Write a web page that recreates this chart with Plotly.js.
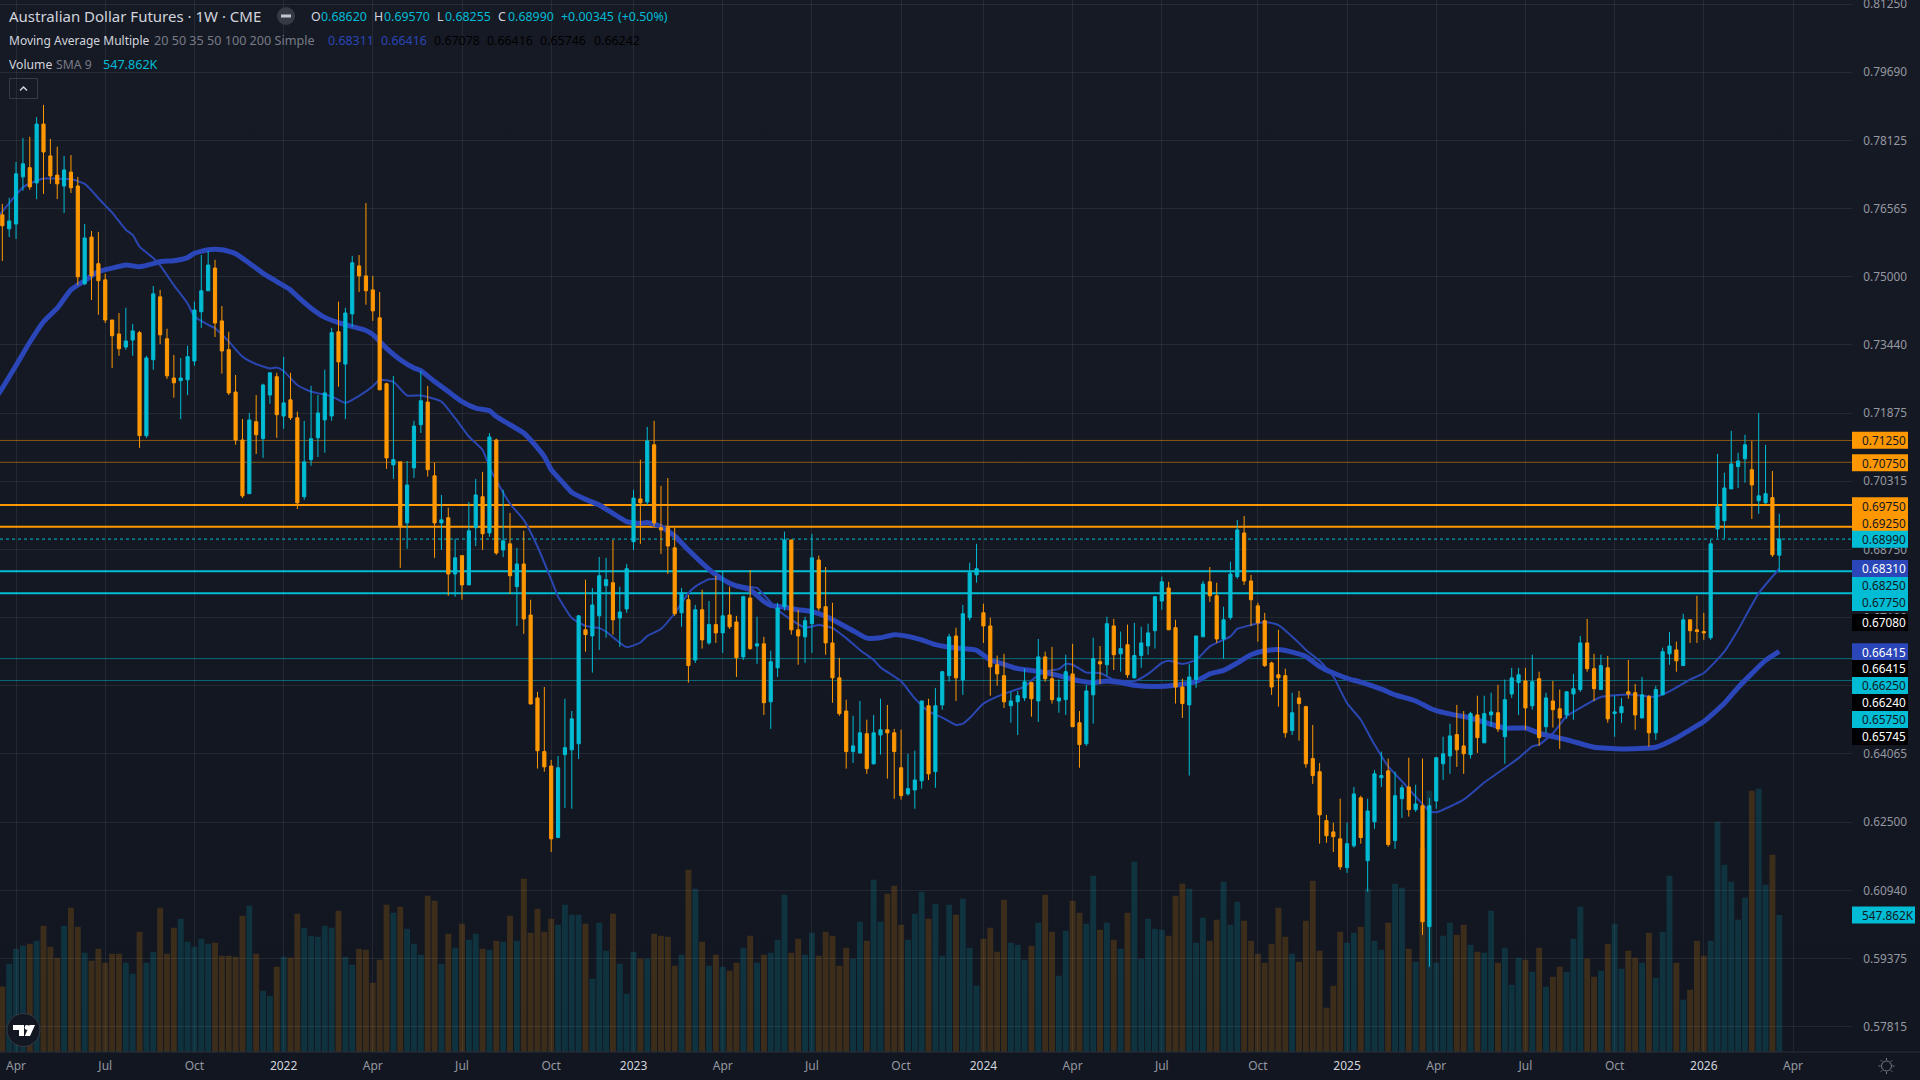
<!DOCTYPE html>
<html><head><meta charset="utf-8">
<script src="https://cdn.plot.ly/plotly-3.0.1.min.js"></script>
<style>html,body{margin:0;padding:0;width:1920px;height:1080px;overflow:hidden;background:linear-gradient(#161a25,#121620)}#c{width:1920px;height:1080px}</style>
</head><body><div id="c"></div>
<script>
const opens=[.7642,.7610,.7621,.7729,.7750,.7715,.7850,.7777,.7733,.7708,
.7740,.7708,.7484,.7591,.7530,.7493,.7401,.7369,.7339,.7355,
.7372,.7136,.7310,.7454,.7358,.7268,.7262,.7264,.7307,.7420,
.7468,.7520,.7399,.7333,.7236,.7126,.7003,.7168,.7129,.7229,
.7271,.7181,.7218,.7177,.6996,.7081,.7131,.7172,.7181,.7374,
.7300,.7415,.7525,.7502,.7470,.7406,.7255,.7069,.7076,.6936,
.7062,.7161,.7213,.7044,.6936,.6948,.6819,.6861,.6794,.6925,
.6996,.6913,.7126,.6874,.6888,.6790,.6842,.6725,.6535,.6412,
.6379,.6215,.6405,.6416,.6430,.6691,.6677,.6723,.6792,.6799,
.6718,.6739,.6893,.6991,.6984,.7115,.6925,.6925,.6879,.6730,
.6760,.6622,.6737,.6661,.6703,.6684,.6725,.6709,.6629,.6764,
.6654,.6659,.6526,.6604,.6744,.6897,.6691,.6675,.6705,.6851,
.6744,.6661,.6581,.6505,.6412,.6409,.6453,.6384,.6450,.6462,
.6455,.6375,.6315,.6324,.6345,.6517,.6366,.6519,.6586,.6677,
.6576,.6719,.6817,.6730,.6700,.6611,.6586,.6517,.6526,.6535,
.6570,.6528,.6629,.6579,.6528,.6531,.6590,.6478,.6430,.6542,
.6618,.6611,.6700,.6636,.6657,.6581,.6632,.6654,.6689,.6757,
.6787,.6696,.6560,.6519,.6577,.6675,.6801,.6769,.6670,.6719,
.6813,.6913,.6803,.6746,.6712,.6615,.6588,.6586,.6460,.6535,
.6515,.6396,.6366,.6254,.6228,.6212,.6146,.6196,.6306,.6162,
.6251,.6352,.6368,.6208,.6304,.6331,.6279,.6288,.6011,.6299,
.6384,.6402,.6451,.6425,.6405,.6496,.6432,.6496,.6501,.6446,
.6544,.6570,.6574,.6517,.6579,.6469,.6528,.6510,.6496,.6544,
.6554,.6661,.6602,.6554,.6604,.6499,.6501,.6549,.6547,.6489,
.6538,.6455,.6542,.6636,.6645,.6609,.6714,.6691,.6687,.6673,
.6922,.6941,.7014,.7065,.7083,.7058,.6987,.6982,.6994,.6862];
const highs=[.7667,.7681,.7763,.7818,.7821,.7866,.7894,.7816,.7798,.7777,
.7779,.7729,.7621,.7605,.7603,.7507,.7401,.7417,.7429,.7392,
.7376,.7319,.7479,.7470,.7381,.7321,.7314,.7342,.7443,.7550,
.7559,.7539,.7433,.7374,.7275,.7174,.7188,.7229,.7255,.7280,
.7280,.7317,.7280,.7191,.7170,.7250,.7229,.7287,.7383,.7443,
.7429,.7548,.7550,.7669,.7502,.7465,.7257,.7273,.7076,.7078,
.7170,.7284,.7250,.7074,.7000,.6971,.6900,.6861,.6984,.7037,
.7053,.7142,.7129,.7012,.6959,.6879,.6918,.6760,.6549,.6560,
.6393,.6402,.6533,.6505,.6725,.6806,.6787,.6858,.6856,.6897,
.6790,.6842,.7012,.7081,.7156,.7170,.7021,.7039,.6925,.6787,
.6771,.6748,.6783,.6757,.6815,.6824,.6790,.6723,.6769,.6828,
.6721,.6675,.6643,.6753,.6916,.6897,.6737,.6721,.6911,.6861,
.6835,.6753,.6627,.6531,.6494,.6528,.6485,.6496,.6533,.6519,
.6464,.6462,.6407,.6414,.6528,.6533,.6558,.6597,.6682,.6696,
.6748,.6845,.6888,.6751,.6719,.6632,.6636,.6549,.6551,.6602,
.6572,.6670,.6641,.6652,.6577,.6634,.6659,.6505,.6565,.6673,
.6654,.6721,.6716,.6687,.6703,.6707,.6698,.6705,.6767,.6813,
.6801,.6714,.6579,.6613,.6677,.6803,.6835,.6799,.6744,.6847,
.6943,.6952,.6817,.6753,.6730,.6618,.6691,.6602,.6547,.6551,
.6517,.6473,.6386,.6267,.6249,.6304,.6249,.6331,.6311,.6304,
.6370,.6412,.6396,.6366,.6336,.6398,.6336,.6396,.6306,.6400,
.6446,.6476,.6519,.6505,.6503,.6540,.6540,.6547,.6565,.6577,
.6604,.6604,.6604,.6634,.6595,.6547,.6574,.6554,.6551,.6590,
.6677,.6716,.6636,.6634,.6631,.6540,.6535,.6622,.6567,.6583,
.6542,.6563,.6650,.6686,.6664,.6728,.6714,.6769,.6730,.6897,
.7094,.7051,.7147,.7097,.7138,.7124,.7188,.7115,.7055,.6957];
const lows=[.7536,.7591,.7587,.7697,.7699,.7678,.7690,.7713,.7678,.7646,
.7692,.7481,.7481,.7447,.7413,.7394,.7291,.7319,.7333,.7319,
.7108,.7131,.7287,.7346,.7266,.7223,.7174,.7229,.7296,.7383,
.7468,.7362,.7278,.7229,.7115,.6993,.7003,.7094,.7085,.7209,
.7131,.7152,.7172,.6968,.6989,.7067,.7087,.7097,.7170,.7248,
.7174,.7385,.7465,.7436,.7399,.7241,.7060,.7037,.6833,.6877,
.7039,.7142,.7042,.6856,.6874,.6769,.6767,.6760,.6794,.6883,
.6874,.6904,.6863,.6858,.6773,.6700,.6682,.6521,.6373,.6366,
.6182,.6215,.6283,.6281,.6395,.6641,.6593,.6645,.6673,.6680,
.6652,.6730,.6874,.6888,.6977,.6929,.6865,.6819,.6723,.6698,
.6570,.6615,.6648,.6657,.6661,.6638,.6693,.6583,.6622,.6645,
.6613,.6496,.6464,.6583,.6735,.6680,.6611,.6615,.6638,.6735,
.6634,.6524,.6494,.6373,.6386,.6407,.6361,.6382,.6405,.6350,
.6304,.6302,.6311,.6281,.6327,.6347,.6329,.6508,.6572,.6528,
.6542,.6712,.6799,.6661,.6540,.6563,.6512,.6478,.6450,.6528,
.6492,.6480,.6572,.6522,.6501,.6496,.6469,.6375,.6425,.6476,
.6567,.6586,.6599,.6595,.6581,.6579,.6604,.6634,.6648,.6737,
.6691,.6522,.6489,.6357,.6558,.6675,.6755,.6661,.6625,.6714,
.6808,.6794,.6700,.6664,.6606,.6542,.6515,.6444,.6450,.6437,
.6375,.6338,.6201,.6203,.6182,.6141,.6134,.6192,.6201,.6091,
.6235,.6331,.6194,.6189,.6260,.6263,.6274,.5992,.5919,.6281,
.6347,.6361,.6377,.6361,.6396,.6409,.6432,.6469,.6457,.6384,
.6535,.6496,.6462,.6508,.6425,.6455,.6467,.6418,.6487,.6485,
.6549,.6595,.6528,.6554,.6478,.6446,.6478,.6533,.6462,.6489,
.6423,.6439,.6542,.6611,.6595,.6609,.6661,.6661,.6668,.6668,
.6902,.6900,.7014,.7016,.7028,.6945,.6957,.6980,.6858,.68255];
const closes=[.7617,.7628,.7736,.7759,.7706,.7850,.7786,.7731,.7713,.7745,
.7704,.7500,.7589,.7502,.7491,.7401,.7365,.7335,.7353,.7376,
.7136,.7314,.7461,.7367,.7273,.7257,.7268,.7317,.7424,.7468,
.7527,.7394,.7330,.7234,.7126,.6998,.7172,.7138,.7252,.7280,
.7184,.7211,.7177,.6982,.7076,.7129,.7188,.7234,.7372,.7305,
.7417,.7532,.7502,.7468,.7422,.7241,.7085,.7081,.6927,.7023,
.7158,.7216,.7058,.6936,.6943,.6819,.6856,.6794,.6918,.7000,
.6911,.7133,.6867,.6895,.6815,.6842,.6716,.6521,.6414,.6377,
.6212,.6375,.6421,.6487,.6723,.6680,.6748,.6815,.6806,.6714,
.6732,.6831,.6993,.6982,.7124,.6936,.6920,.6883,.6728,.6776,
.6609,.6737,.6668,.6703,.6684,.6723,.6698,.6627,.6767,.6648,
.6659,.6524,.6618,.6741,.6897,.6691,.6677,.6712,.6856,.6741,
.6661,.6581,.6499,.6412,.6425,.6455,.6373,.6455,.6462,.6455,
.6412,.6311,.6327,.6347,.6528,.6361,.6517,.6595,.6675,.6581,
.6728,.6822,.6831,.6700,.6606,.6590,.6526,.6528,.6540,.6572,
.6533,.6629,.6579,.6531,.6535,.6595,.6469,.6428,.6551,.6625,
.6613,.6705,.6634,.6648,.6588,.6632,.6661,.6684,.6767,.6801,
.6691,.6560,.6522,.6583,.6677,.6796,.6769,.6670,.6714,.6819,
.6920,.6803,.6760,.6707,.6609,.6560,.6581,.6455,.6501,.6522,
.6384,.6357,.6267,.6219,.6217,.6148,.6201,.6315,.6215,.6276,
.6361,.6357,.6199,.6311,.6329,.6279,.6292,.6022,.6288,.6398,
.6407,.6448,.6416,.6407,.6499,.6444,.6499,.6503,.6464,.6531,
.6581,.6588,.6512,.6572,.6444,.6535,.6508,.6489,.6549,.6556,
.6661,.6602,.6556,.6609,.6487,.6503,.6515,.6544,.6496,.6542,
.6455,.6554,.6641,.6654,.6620,.6714,.6689,.6687,.6684,.6888,
.6973,.7016,.7071,.7078,.7115,.7023,.6998,.7003,.6863,.6899];
const volumesK=[262,353,413,425,433,445,505,421,377,505,
577,501,397,365,413,357,393,393,357,313,
481,357,401,577,393,497,533,441,421,453,
433,437,385,385,381,545,585,393,245,225,
341,381,377,553,497,465,461,505,497,565,
381,349,413,409,277,369,589,557,581,493,
433,389,625,605,353,473,417,513,449,473,
413,409,445,441,545,445,693,477,573,481,
533,509,589,549,549,513,293,517,405,553,
353,233,401,373,373,473,465,461,345,389,
729,653,441,345,389,341,325,357,417,465,
357,389,397,449,629,397,453,389,477,385,
481,465,345,417,373,521,445,689,521,633,
665,509,449,553,641,533,593,385,589,549,
613,417,265,453,497,401,609,437,429,369,
425,517,629,481,305,485,605,557,513,705,
489,517,449,413,557,761,373,533,493,489,
465,625,673,653,437,537,445,529,681,509,
601,525,445,393,357,433,577,461,393,361,
525,685,405,177,265,481,437,477,501,653,
445,409,517,673,657,413,361,817,1045,357,
465,517,469,509,429,401,397,565,357,417,
269,377,369,321,417,261,301,341,321,453,
581,373,301,325,433,513,333,405,377,357,
477,297,481,705,357,209,249,445,385,445,
921,749,681,529,617,1045,1053,669,789,547.862];
const ma20Bars=[-1,1,3,5,6,8,10,12,13,14,16,18,19,20,22,23,25,27,28,30,31,33,35,37,39,40,41,43,45,48,50,52,54,55,57,59,61,64,66,68,70,71,72,74,76,78,80,81,82,83,85,87,88,89,91,93,94,96,98,100,101,103,105,107,109,110,111,113,115,117,119,121,123,125,127,128,131,133,135,137,139,140,141,143,145,147,149,151,153,154,155,156,158,160,162,165,167,169,170,172,174,176,179,180,182,184,186,189,190,192,194,196,198,200,202,204,206,208,209,213,216,221,223,224,226,228,230,233,237,241,243,246,248,251,253,256,259];
const ma20Vals=[.7630,.7669,.7705,.7720,.7725,.7725,.7724,.7713,.7698,.7680,.7647,.7608,.7596,.7569,.7543,.7526,.7481,.7439,.7409,.7390,.7382,.7352,.7317,.7300,.7290,.7292,.7284,.7252,.7237,.7226,.7211,.7227,.7249,.7264,.7259,.7228,.7228,.7214,.7176,.7134,.7103,.7064,.7033,.6980,.6943,.6882,.6806,.6767,.6741,.6718,.6700,.6695,.6687,.6674,.6651,.6662,.6677,.6693,.6729,.6775,.6790,.6807,.6806,.6794,.6789,.6787,.6771,.6737,.6714,.6696,.6702,.6695,.6672,.6645,.6622,.6605,.6573,.6534,.6504,.6490,.6473,.6476,.6489,.6522,.6538,.6550,.6561,.6588,.6599,.6601,.6613,.6611,.6593,.6592,.6577,.6573,.6590,.6615,.6620,.6613,.6622,.6653,.6676,.6693,.6702,.6709,.6702,.6661,.6645,.6620,.6584,.6523,.6485,.6428,.6378,.6344,.6309,.6276,.6273,.6302,.6341,.6397,.6424,.6428,.6454,.6493,.6512,.6537,.6543,.6538,.6550,.6577,.6592,.6641,.6691,.6775,.68311];
const ma50Bars=[-1,0,2,4,6,8,10,12,14,16,18,20,22,23,25,27,28,30,32,34,36,38,40,42,43,45,47,49,51,53,54,56,58,60,61,63,65,67,69,71,72,74,76,77,79,80,82,83,85,87,89,91,93,94,96,98,100,102,104,106,107,109,111,112,114,116,118,120,122,124,126,128,130,132,134,136,138,140,142,144,146,148,151,154,157,159,161,163,165,168,171,174,176,178,180,182,184,186,188,190,192,194,196,198,201,203,206,208,209,212,214,219,222,224,227,229,232,236,241,244,246,248,251,253,257,259];
const ma50Vals=[.7222,.7245,.7297,.7350,.7397,.7428,.7470,.7491,.7512,.7520,.7527,.7523,.7530,.7535,.7537,.7544,.7554,.7562,.7562,.7553,.7531,.7508,.7489,.7470,.7455,.7428,.7407,.7395,.7386,.7377,.7368,.7336,.7310,.7291,.7285,.7260,.7237,.7214,.7199,.7193,.7180,.7161,.7142,.7126,.7088,.7058,.7023,.7006,.6990,.6977,.6958,.6939,.6935,.6937,.6928,.6906,.6874,.6844,.6817,.6798,.6792,.6783,.6756,.6747,.6743,.6737,.6733,.6722,.6706,.6689,.6672,.6673,.6680,.6676,.6668,.6657,.6651,.6648,.6644,.6622,.6612,.6602,.6596,.6586,.6574,.6570,.6574,.6570,.6564,.6561,.6564,.6573,.6590,.6598,.6615,.6634,.6643,.6646,.6640,.6630,.6607,.6592,.6580,.6571,.6555,.6542,.6528,.6512,.6506,.6495,.6489,.6466,.6466,.6454,.6443,.6435,.6422,.6418,.6422,.6443,.6462,.6481,.6523,.6559,.6621,.66416];
const priceTicks=[.8125,.7969,.78125,.76565,.75,.7344,.71875,.70315,.6875,.6719,.65625,.64065,.625,.6094,.59375,.57815];
const priceTickText=priceTicks.map(v=>v.toFixed(5));
const timeTickBars=[2,15,28,41,54,67,80,92,105,118,131,143,156,169,183,196,209,222,235,248,261];
const timeTickText=['Apr','Jul','Oct','2022','Apr','Jul','Oct','2023','Apr','Jul','Oct','2024','Apr','Jul','Oct','2025','Apr','Jul','Oct','2026','Apr'];
const orangeStrong=[.6977,.6927], orangeWeak=[.7125,.7075], tealStrong=[.6825,.6775], tealWeak=[.6625,.6575];
const lastClose=.6899;
const labelRows=[['0.71250',440.3,'#ff9800','#131722'],['0.70750',462.7,'#ff9800','#131722'],['0.69750',505.7,'#ff9800','#131722'],['0.69250',522.6,'#ff9800','#131722'],['0.68990',539.3,'#00bcd4','#131722'],['0.68310',568.4,'#2a46b8','#fff'],['0.68250',585.4,'#00bcd4','#131722'],['0.67750',602.4,'#00bcd4','#131722'],['0.67080',622.4,'#000','#fff'],['0.66415',651.7,'#2a46b8','#fff'],['0.66415',668.4,'#000','#fff'],['0.66250',685.4,'#00bcd4','#131722'],['0.66240',702.4,'#000','#fff'],['0.65750',719.4,'#00bcd4','#131722'],['0.65745',736.4,'#000','#fff']];

const TEAL='#00bcd4',ORANGE='#ff9800',BLUE='#2a46b8',GRID='rgba(255,255,255,0.07)';
const FONT='"Noto Sans", sans-serif';
const PW=1852,PH=1052;
const px=x=>x/PW, py=y=>(PH-y)/PH;
const bars=opens.map((_,i)=>i);
const volColors=opens.map((o,i)=>closes[i]>=o?'rgba(0,188,212,0.17)':'rgba(255,152,0,0.18)');
const priceRange=[.57236,.81343];

const data=[
 {type:'bar',x:bars,y:volumesK,yaxis:'y',marker:{color:volColors,line:{width:0}},hoverinfo:'skip'},
 {type:'scatter',mode:'lines',x:ma20Bars,y:ma20Vals,yaxis:'y2',line:{color:'#2a46b0',width:2,shape:'spline',smoothing:0.5},hoverinfo:'skip'},
 {type:'scatter',mode:'lines',x:ma50Bars,y:ma50Vals,yaxis:'y2',line:{color:BLUE,width:5,shape:'spline',smoothing:0.5},hoverinfo:'skip'},
 {type:'candlestick',x:bars,open:opens,high:highs,low:lows,close:closes,yaxis:'y3',whiskerwidth:0,
  increasing:{line:{color:TEAL,width:1},fillcolor:TEAL},decreasing:{line:{color:ORANGE,width:1},fillcolor:ORANGE},hoverinfo:'skip'}
];
const hline=(v,c,w,d)=>({type:'line',xref:'paper',x0:0,x1:1,yref:'y2',y0:v,y1:v,layer:'below',line:{color:c,width:w,dash:d||'solid'}});
const shapes=[
 ...orangeWeak.map(v=>hline(v,'rgba(255,152,0,0.5)',1)),
 ...tealWeak.map(v=>hline(v,'rgba(0,188,212,0.5)',1)),
 ...orangeStrong.map(v=>hline(v,ORANGE,2)),
 ...tealStrong.map(v=>hline(v,TEAL,2)),
 hline(lastClose,TEAL,1,'dot'),
 {type:'line',xref:'paper',yref:'paper',x0:0,x1:px(1920),y0:0,y1:0,line:{color:'#2a2e39',width:1}}
];
const box=(x0,y0,x1,y1,fill,line)=>({type:'rect',xref:'paper',yref:'paper',x0:px(x0),x1:px(x1),y0:py(y0),y1:py(y1),fillcolor:fill,line:line||{width:0},layer:'above'});
labelRows.forEach(r=>shapes.push(box(1852,r[1]-8.5,1908,r[1]+8.5,r[2])));
shapes.push(box(1852,906.5,1915,923.5,TEAL));
const pathShape=(d,fill,line)=>({type:'path',xref:'paper',yref:'paper',path:d,fillcolor:fill,line:line||{width:0},layer:'above'});
const P=(pts,close)=>'M'+pts.map(p=>px(p[0])+','+py(p[1])).join(' L')+(close?' Z':'');
const circ=(cx,cy,r,fill,line)=>({type:'circle',xref:'paper',yref:'paper',x0:px(cx-r),x1:px(cx+r),y0:py(cy+r),y1:py(cy-r),fillcolor:fill,line:line||{width:0},layer:'above'});
shapes.push(box(9.5,78.5,37.5,98.5,'rgba(0,0,0,0)',{color:'#363a45',width:1}));
shapes.push(pathShape(P([[20,90.5],[23.5,87],[27,90.5]]),'rgba(0,0,0,0)',{color:'#d1d4dc',width:1.5}));
shapes.push(circ(286,16,9,'#363a45'));
shapes.push(box(281,14.5,291,17.5,'#c3c6ce'));
shapes.push(circ(23.5,1030,16.5,'#131722',{color:'#363a45',width:1}));
shapes.push(pathShape(P([[13,1025],[24,1025],[24,1036],[19,1036],[19,1030],[13,1030]],true),'#fff'));
shapes.push(circ(27,1027.5,2.4,'#fff'));
shapes.push(pathShape(P([[29.5,1025],[35,1025],[30,1036],[24.8,1036]],true),'#fff'));
shapes.push(circ(1886.5,1066,5,'rgba(0,0,0,0)',{color:'#787b86',width:1}));
[[0,-8,0,-6],[0,6,0,8],[-8,0,-6,0],[6,0,8,0],[-5.7,-5.7,-4.3,-4.3],[4.3,4.3,5.7,5.7],[-5.7,5.7,-4.3,4.3],[4.3,-4.3,5.7,-5.7]].forEach(s=>
 shapes.push(pathShape(P([[1886.5+s[0],1066+s[1]],[1886.5+s[2],1066+s[3]]]),'rgba(0,0,0,0)',{color:'#787b86',width:1})));

const note=(x,y,text,color,size)=>({xref:'paper',yref:'paper',x:px(x),y:py(y),xanchor:'left',yanchor:'middle',showarrow:false,text,align:'left',borderpad:0,borderwidth:0,font:{family:FONT,size:size||12.4,color}});
const annotations=[
 note(9,15.8,'Australian Dollar Futures · 1W · CME','#d1d4dc',15),
 note(311,16.7,'O','#d1d4dc'),note(321,16.7,'0.68620',TEAL),
 note(374,16.7,'H','#d1d4dc'),note(384,16.7,'0.69570',TEAL),
 note(437,16.7,'L','#d1d4dc'),note(445,16.7,'0.68255',TEAL),
 note(498,16.7,'C','#d1d4dc'),note(508,16.7,'0.68990',TEAL),
 note(561,16.7,'+0.00345',TEAL),note(618,16.7,'(+0.50%)',TEAL),
 note(9,40.7,'Moving Average Multiple','#d1d4dc',12),
 note(154,40.7,'20 50 35 50 100 200 Simple','#787b86',12.6),
 note(328,40.7,'0.68311',BLUE),note(381,40.7,'0.66416',BLUE),
 note(434,40.7,'0.67078','#000'),note(487,40.7,'0.66416','#000'),note(540,40.7,'0.65746','#000'),note(594,40.7,'0.66242','#000'),
 note(9,64.3,'Volume','#d1d4dc',12.2),note(56,64.3,'SMA 9','#787b86',12.2),note(103,64.3,'547.862K',TEAL,12.6),
 ...labelRows.map(r=>note(1862,r[1],r[0],r[3],11.8)),
 note(1862,915,'547.862K','#131722',11.8)
];
const layout={
 width:1920,height:1080,margin:{l:0,r:68,t:0,b:28,pad:0},paper_bgcolor:'rgba(0,0,0,0)',plot_bgcolor:'rgba(0,0,0,0)',
 showlegend:false,bargap:0.14,boxgap:0.34,font:{family:FONT,color:'#9598a1'},
 xaxis:{range:[-0.34,269.6],rangeslider:{visible:false},tickmode:'array',tickvals:timeTickBars,
  ticktext:timeTickText.map(t=>/^\d/.test(t)?'<span style="color:#d1d4dc">'+t+'</span>':t),
  showgrid:true,gridcolor:GRID,gridwidth:1,zeroline:false,showline:false,ticks:'outside',ticklen:3,tickcolor:'rgba(0,0,0,0)',tickfont:{family:FONT,size:12,color:'#9598a1'}},
 yaxis:{range:[0,4209],domain:[0,1],visible:false,showgrid:false,zeroline:false,fixedrange:true},
 yaxis2:{overlaying:'y',side:'right',range:priceRange,tickmode:'array',tickvals:priceTicks,ticktext:priceTickText,ticklabeloverflow:'allow',
  showgrid:true,gridcolor:GRID,gridwidth:1,zeroline:false,showline:false,ticks:'outside',ticklen:8,tickcolor:'rgba(0,0,0,0)',tickfont:{family:FONT,size:11.8,color:'#9598a1'}},
 yaxis3:{overlaying:'y',side:'right',range:priceRange,visible:false,showgrid:false,zeroline:false},
 shapes,annotations
};
Plotly.newPlot('c',data,layout,{staticPlot:true,displayModeBar:false});
</script></body></html>
